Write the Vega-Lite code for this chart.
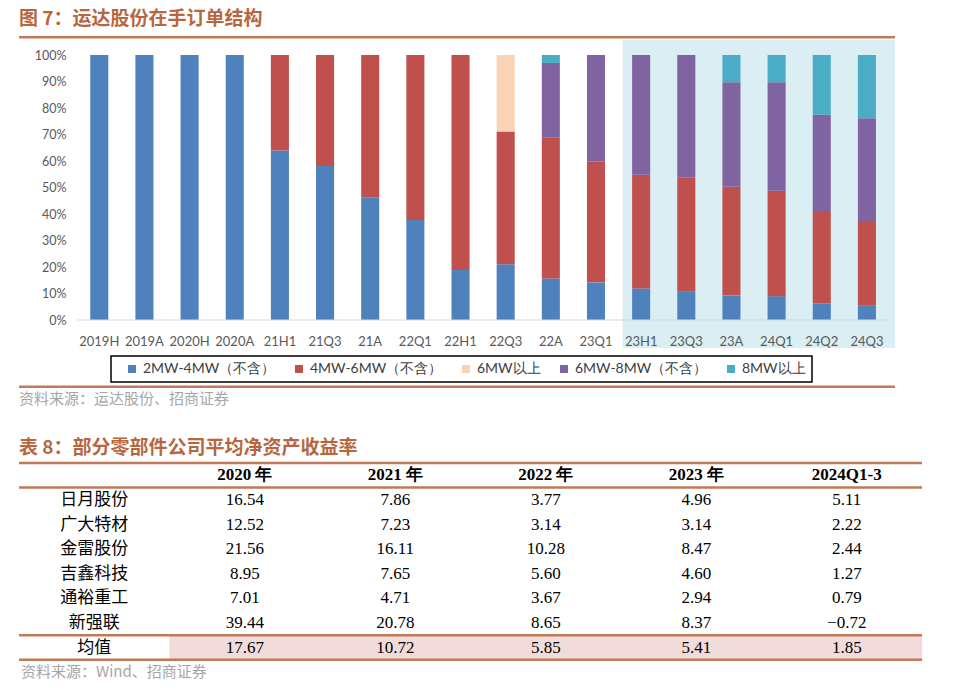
{
  "$schema": "https://vega.github.io/schema/vega-lite/v6.json",
  "background": "white",
  "padding": {"left": 17, "top": 9, "right": 0, "bottom": 0},
  "spacing": 2,
  "config": {
    "view": {"stroke": null},
    "legend": {"strokeWidth": 1.5},
    "font": "Noto Sans CJK SC",
    "axisY": {
      "title": null,
      "domain": false,
      "ticks": false,
      "tickSize": 0,
      "grid": false,
      "labelOverlap": false,
      "offset": -47,
      "labelPadding": 0,
      "labelFont": "Lato",
      "labelFontSize": 12.5,
      "labelColor": "#595959"
    },
    "axisX": {
      "title": null,
      "labelAngle": 0,
      "domain": false,
      "ticks": false,
      "tickSize": 0,
      "grid": false,
      "labelPadding": 15,
      "labelFont": "Lato",
      "labelFontSize": 13,
      "labelColor": "#595959",
      "labelOverlap": false,
      "zindex": 1
    }
  },
  "resolve": {
    "scale": {"x": "independent", "y": "independent", "color": "independent"},
    "legend": {"color": "independent"}
  },
  "vconcat": [
    {
      "width": 876,
      "height": 265,
      "title": {
        "text": "图 7：运达股份在手订单结构",
        "anchor": "start",
        "frame": "group",
        "font": "Noto Sans CJK SC",
        "fontSize": 19,
        "fontWeight": "bold",
        "color": "#b7663f",
        "offset": 7
      },
      "layer": [
        {
          "data": {"values": [{"from": "23H1", "to": "24Q3"}]},
          "mark": {"type": "rect", "color": "#daeef3"},
          "encoding": {
            "x": {"field": "from", "type": "nominal", "bandPosition": -0.53, "axis": {"bandPosition": 0.5, "zindex": 1}},
            "x2": {"field": "to", "bandPosition": 2.06},
            "y": {
              "datum": 105.7,
              "type": "quantitative",
              "axis": {"values": [0, 10, 20, 30, 40, 50, 60, 70, 80, 90, 100], "labelExpr": "datum.value + '%'", "tickCount": 11}
            },
            "y2": {"datum": -10.6}
          }
        },
        {
          "data": {
            "values": [
              {"period": "2019H", "size": "2MW-4MW（不含）", "share": 100},
              {"period": "2019A", "size": "2MW-4MW（不含）", "share": 100},
              {"period": "2020H", "size": "2MW-4MW（不含）", "share": 100},
              {"period": "2020A", "size": "2MW-4MW（不含）", "share": 100},
              {"period": "21H1", "size": "2MW-4MW（不含）", "share": 64.0},
              {"period": "21H1", "size": "4MW-6MW（不含）", "share": 36.0},
              {"period": "21Q3", "size": "2MW-4MW（不含）", "share": 58.1},
              {"period": "21Q3", "size": "4MW-6MW（不含）", "share": 41.9},
              {"period": "21A", "size": "2MW-4MW（不含）", "share": 46.3},
              {"period": "21A", "size": "4MW-6MW（不含）", "share": 53.7},
              {"period": "22Q1", "size": "2MW-4MW（不含）", "share": 37.7},
              {"period": "22Q1", "size": "4MW-6MW（不含）", "share": 62.3},
              {"period": "22H1", "size": "2MW-4MW（不含）", "share": 18.9},
              {"period": "22H1", "size": "4MW-6MW（不含）", "share": 81.1},
              {"period": "22Q3", "size": "2MW-4MW（不含）", "share": 21.0},
              {"period": "22Q3", "size": "4MW-6MW（不含）", "share": 50.1},
              {"period": "22Q3", "size": "6MW以上", "share": 28.9},
              {"period": "22A", "size": "2MW-4MW（不含）", "share": 15.7},
              {"period": "22A", "size": "4MW-6MW（不含）", "share": 53.3},
              {"period": "22A", "size": "6MW-8MW（不含）", "share": 28.0},
              {"period": "22A", "size": "8MW以上", "share": 3.0},
              {"period": "23Q1", "size": "2MW-4MW（不含）", "share": 14.2},
              {"period": "23Q1", "size": "4MW-6MW（不含）", "share": 45.5},
              {"period": "23Q1", "size": "6MW-8MW（不含）", "share": 40.3},
              {"period": "23H1", "size": "2MW-4MW（不含）", "share": 11.9},
              {"period": "23H1", "size": "4MW-6MW（不含）", "share": 42.9},
              {"period": "23H1", "size": "6MW-8MW（不含）", "share": 45.2},
              {"period": "23Q3", "size": "2MW-4MW（不含）", "share": 10.7},
              {"period": "23Q3", "size": "4MW-6MW（不含）", "share": 43.0},
              {"period": "23Q3", "size": "6MW-8MW（不含）", "share": 46.3},
              {"period": "23A", "size": "2MW-4MW（不含）", "share": 9.2},
              {"period": "23A", "size": "4MW-6MW（不含）", "share": 41.1},
              {"period": "23A", "size": "6MW-8MW（不含）", "share": 39.4},
              {"period": "23A", "size": "8MW以上", "share": 10.3},
              {"period": "24Q1", "size": "2MW-4MW（不含）", "share": 9.0},
              {"period": "24Q1", "size": "4MW-6MW（不含）", "share": 39.8},
              {"period": "24Q1", "size": "6MW-8MW（不含）", "share": 40.9},
              {"period": "24Q1", "size": "8MW以上", "share": 10.3},
              {"period": "24Q2", "size": "2MW-4MW（不含）", "share": 6.3},
              {"period": "24Q2", "size": "4MW-6MW（不含）", "share": 34.5},
              {"period": "24Q2", "size": "6MW-8MW（不含）", "share": 36.7},
              {"period": "24Q2", "size": "8MW以上", "share": 22.5},
              {"period": "24Q3", "size": "2MW-4MW（不含）", "share": 5.4},
              {"period": "24Q3", "size": "4MW-6MW（不含）", "share": 32.0},
              {"period": "24Q3", "size": "6MW-8MW（不含）", "share": 38.7},
              {"period": "24Q3", "size": "8MW以上", "share": 23.9}
            ]
          },
          "mark": {"type": "bar"},
          "encoding": {
            "x": {
              "field": "period",
              "type": "nominal",
              "sort": null,
              "scale": {
                "domain": ["2019H", "2019A", "2020H", "2020A", "21H1", "21Q3", "21A", "22Q1", "22H1", "22Q3", "22A", "23Q1", "23H1", "23Q3", "23A", "24Q1", "24Q2", "24Q3"],
                "paddingInner": 0.6,
                "paddingOuter": 1.059,
                "align": 0.789
              },
              "axis": {"bandPosition": 0.5, "zindex": 1}
            },
            "y": {
              "field": "share",
              "type": "quantitative",
              "stack": "zero",
              "scale": {"domain": [0, 100], "nice": false},
              "axis": {"values": [0, 10, 20, 30, 40, 50, 60, 70, 80, 90, 100], "labelExpr": "datum.value + '%'", "tickCount": 11}
            },
            "color": {
              "field": "size",
              "type": "nominal",
              "scale": {
                "domain": ["2MW-4MW（不含）", "4MW-6MW（不含）", "6MW以上", "6MW-8MW（不含）", "8MW以上"],
                "range": ["#4f81bd", "#c0504d", "#fad3b4", "#8064a2", "#4bacc6"]
              },
              "legend": {
                "orient": "none",
                "legendX": 92,
                "legendY": 301,
                "direction": "horizontal",
                "columns": 5,
                "title": null,
                "symbolType": "square",
                "symbolSize": 64,
                "symbolStrokeWidth": 0,
                "symbolOffset": 8,
                "labelOffset": 4,
                "labelFont": "Lato",
                "labelFontSize": 14,
                "labelColor": "#404040",
                "labelLimit": 300,
                "columnPadding": 8,
                "padding": 6,
                "strokeColor": "#000000"
              }
            },
            "order": {"field": "size", "sort": "ascending"}
          }
        },
        {
          "data": {"values": [{"from": "2019H", "to": "24Q3"}]},
          "mark": {"type": "rule", "color": "#d9d9d9", "strokeWidth": 1},
          "encoding": {
            "x": {"field": "from", "type": "nominal", "bandPosition": -0.75, "axis": {"bandPosition": 0.5, "zindex": 1}},
            "x2": {"field": "to", "bandPosition": 1.75},
            "y": {"datum": 0, "type": "quantitative", "axis": {"values": [0, 10, 20, 30, 40, 50, 60, 70, 80, 90, 100], "labelExpr": "datum.value + '%'", "tickCount": 11}}
          }
        },
        {
          "data": {"values": [{"line": "title rule"}]},
          "mark": {"type": "rule", "color": "#c17a58", "strokeWidth": 2.5},
          "encoding": {"y": {"datum": 106.7, "type": "quantitative", "axis": {"values": [0, 10, 20, 30, 40, 50, 60, 70, 80, 90, 100], "labelExpr": "datum.value + '%'", "tickCount": 11}}}
        },
        {
          "data": {"values": [{"line": "footer rule"}]},
          "mark": {"type": "rule", "color": "#c17a58", "strokeWidth": 2.5},
          "encoding": {"y": {"datum": -25.2, "type": "quantitative", "axis": {"values": [0, 10, 20, 30, 40, 50, 60, 70, 80, 90, 100], "labelExpr": "datum.value + '%'", "tickCount": 11}}}
        }
      ]
    },
    {
      "width": 903,
      "height": 221.4,
      "title": {
        "text": "资料来源：运达股份、招商证券",
        "subtitle": "表 8：部分零部件公司平均净资产收益率",
        "anchor": "start",
        "frame": "group",
        "font": "Noto Sans CJK SC",
        "fontSize": 15,
        "fontWeight": "normal",
        "color": "#a6a6a6",
        "subtitleFont": "Noto Sans CJK SC",
        "subtitleFontSize": 19,
        "subtitleFontWeight": "bold",
        "subtitleColor": "#b7663f",
        "subtitlePadding": 32,
        "offset": 4
      },
      "data": {
        "values": [
          {"co": "日月股份", "yr": "2020 年", "roe": 16.54},
          {"co": "日月股份", "yr": "2021 年", "roe": 7.86},
          {"co": "日月股份", "yr": "2022 年", "roe": 3.77},
          {"co": "日月股份", "yr": "2023 年", "roe": 4.96},
          {"co": "日月股份", "yr": "2024Q1-3", "roe": 5.11},
          {"co": "广大特材", "yr": "2020 年", "roe": 12.52},
          {"co": "广大特材", "yr": "2021 年", "roe": 7.23},
          {"co": "广大特材", "yr": "2022 年", "roe": 3.14},
          {"co": "广大特材", "yr": "2023 年", "roe": 3.14},
          {"co": "广大特材", "yr": "2024Q1-3", "roe": 2.22},
          {"co": "金雷股份", "yr": "2020 年", "roe": 21.56},
          {"co": "金雷股份", "yr": "2021 年", "roe": 16.11},
          {"co": "金雷股份", "yr": "2022 年", "roe": 10.28},
          {"co": "金雷股份", "yr": "2023 年", "roe": 8.47},
          {"co": "金雷股份", "yr": "2024Q1-3", "roe": 2.44},
          {"co": "吉鑫科技", "yr": "2020 年", "roe": 8.95},
          {"co": "吉鑫科技", "yr": "2021 年", "roe": 7.65},
          {"co": "吉鑫科技", "yr": "2022 年", "roe": 5.60},
          {"co": "吉鑫科技", "yr": "2023 年", "roe": 4.60},
          {"co": "吉鑫科技", "yr": "2024Q1-3", "roe": 1.27},
          {"co": "通裕重工", "yr": "2020 年", "roe": 7.01},
          {"co": "通裕重工", "yr": "2021 年", "roe": 4.71},
          {"co": "通裕重工", "yr": "2022 年", "roe": 3.67},
          {"co": "通裕重工", "yr": "2023 年", "roe": 2.94},
          {"co": "通裕重工", "yr": "2024Q1-3", "roe": 0.79},
          {"co": "新强联", "yr": "2020 年", "roe": 39.44},
          {"co": "新强联", "yr": "2021 年", "roe": 20.78},
          {"co": "新强联", "yr": "2022 年", "roe": 8.65},
          {"co": "新强联", "yr": "2023 年", "roe": 8.37},
          {"co": "新强联", "yr": "2024Q1-3", "roe": -0.72},
          {"co": "均值", "yr": "2020 年", "roe": 17.67},
          {"co": "均值", "yr": "2021 年", "roe": 10.72},
          {"co": "均值", "yr": "2022 年", "roe": 5.85},
          {"co": "均值", "yr": "2023 年", "roe": 5.41},
          {"co": "均值", "yr": "2024Q1-3", "roe": 1.85}
        ]
      },
      "layer": [
        {
          "transform": [{"filter": "datum.co === '均值'"}],
          "mark": {"type": "rect", "color": "#f2dcdb", "stroke": "#f2dcdb", "strokeWidth": 0.5},
          "encoding": {
            "x": {
              "field": "yr",
              "type": "nominal",
              "scale": {"type": "band", "domain": ["公司", "2020 年", "2021 年", "2022 年", "2023 年", "2024Q1-3"], "paddingInner": 0, "paddingOuter": 0},
              "axis": null
            },
            "y": {
              "field": "co",
              "type": "nominal",
              "scale": {"type": "band", "domain": ["header", "日月股份", "广大特材", "金雷股份", "吉鑫科技", "通裕重工", "新强联", "均值", "source"], "paddingInner": 0, "paddingOuter": 0},
              "axis": null
            }
          }
        },
        {
          "mark": {"type": "text", "font": "Liberation Serif", "fontSize": 17, "color": "#000000"},
          "encoding": {
            "x": {"field": "yr", "type": "nominal", "scale": {"type": "band"}, "axis": null},
            "y": {"field": "co", "type": "nominal", "scale": {"type": "band"}, "axis": null},
            "text": {"field": "roe", "type": "quantitative", "format": ".2f"}
          }
        },
        {
          "transform": [{"aggregate": [], "groupby": ["co"]}],
          "mark": {"type": "text", "font": "Noto Sans CJK SC", "fontSize": 17, "color": "#000000"},
          "encoding": {
            "x": {"datum": "公司", "type": "nominal", "scale": {"type": "band"}, "axis": null},
            "y": {"field": "co", "type": "nominal", "scale": {"type": "band"}, "axis": null},
            "text": {"field": "co", "type": "nominal"}
          }
        },
        {
          "transform": [{"aggregate": [], "groupby": ["yr"]}],
          "mark": {"type": "text", "font": "Liberation Serif", "fontSize": 17, "fontWeight": "bold", "color": "#000000"},
          "encoding": {
            "x": {"field": "yr", "type": "nominal", "scale": {"type": "band"}, "axis": null},
            "y": {"datum": "header", "type": "nominal", "scale": {"type": "band"}, "axis": null},
            "text": {"field": "yr", "type": "nominal"}
          }
        },
        {
          "data": {"values": [{"row": "header"}, {"row": "日月股份"}, {"row": "均值"}, {"row": "source"}]},
          "mark": {"type": "rule", "color": "#c17a58", "strokeWidth": 2.5},
          "encoding": {
            "y": {"field": "row", "type": "nominal", "bandPosition": 0, "scale": {"type": "band"}, "axis": null}
          }
        },
        {
          "data": {"values": [{"note": "资料来源：Wind、招商证券"}]},
          "mark": {"type": "text", "align": "left", "font": "Noto Sans CJK SC", "fontSize": 15, "color": "#a6a6a6", "dx": 2},
          "encoding": {
            "x": {"datum": "公司", "type": "nominal", "bandPosition": 0, "scale": {"type": "band"}, "axis": null},
            "y": {"datum": "source", "type": "nominal", "scale": {"type": "band"}, "axis": null},
            "text": {"field": "note", "type": "nominal"}
          }
        }
      ]
    }
  ]
}
